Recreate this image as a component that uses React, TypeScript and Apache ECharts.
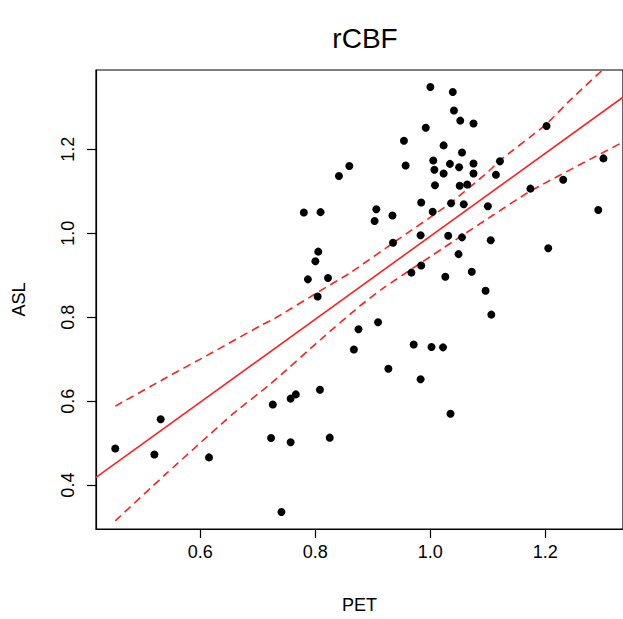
import React, { useEffect, useRef } from "react";
import * as echarts from "echarts";

// PET (x) and ASL (y) values
const petValues = [
  0.452, 0.520, 0.531, 0.615, 0.723, 0.726, 0.741, 0.757, 0.757, 0.766,
  0.808, 0.825, 0.804, 0.787, 0.822, 0.800, 0.805, 0.780, 0.809, 0.841,
  0.859, 0.867, 0.875, 0.909, 0.927, 0.906, 0.903, 0.934, 0.935, 0.954,
  0.957, 0.967, 0.971, 0.983, 0.983, 0.984, 0.984, 0.992, 1.000, 1.002,
  1.004, 1.005, 1.007, 1.008, 1.022, 1.023, 1.023, 1.026, 1.031, 1.034,
  1.035, 1.036, 1.039, 1.041, 1.049, 1.050, 1.051, 1.052, 1.055, 1.055,
  1.058, 1.064, 1.072, 1.075, 1.075, 1.075, 1.096, 1.100, 1.105, 1.106,
  1.114, 1.121, 1.174, 1.202, 1.205, 1.231, 1.292, 1.301,
];
const aslValues = [
  0.487, 0.473, 0.557, 0.466, 0.512, 0.592, 0.336, 0.502, 0.606, 0.616,
  0.627, 0.513, 0.849, 0.890, 0.893, 0.933, 0.956, 1.049, 1.050, 1.136,
  1.160, 0.723, 0.771, 0.788, 0.677, 1.057, 1.029, 1.042, 0.977, 1.220,
  1.161, 0.906, 0.735, 0.652, 0.995, 0.923, 1.073, 1.251, 1.348, 0.729,
  1.051, 1.173, 1.151, 1.114, 0.728, 1.209, 1.142, 0.896, 0.994, 1.165,
  0.570, 1.071, 1.336, 1.292, 0.950, 1.157, 1.113, 1.268, 1.192, 0.990,
  1.069, 1.116, 0.908, 1.261, 1.166, 1.142, 0.863, 1.064, 0.983, 0.806,
  1.139, 1.171, 1.106, 1.255, 0.964, 1.127, 1.055, 1.178,
];

// Regression line (read at the plot edges)
const fitX = [0.4185, 1.335];
const fitY = [0.4182, 1.3237];

// Confidence band curves
const upperX = [0.452, 0.542, 0.600, 0.709, 0.727, 0.816, 0.860, 0.946, 1.033, 1.102, 1.120, 1.201, 1.244, 1.299];
const upperY = [0.588, 0.657, 0.700, 0.783, 0.795, 0.869, 0.905, 0.987, 1.070, 1.148, 1.172, 1.259, 1.318, 1.388];
const lowerX = [0.452, 0.542, 0.657, 0.722, 0.8135, 0.877, 0.918, 1.056, 1.108, 1.175, 1.333];
const lowerY = [0.315, 0.429, 0.570, 0.641, 0.752, 0.826, 0.869, 0.995, 1.042, 1.101, 1.2155];

const xTicks = [0.6, 0.8, 1.0, 1.2];
const yTicks = [0.4, 0.6, 0.8, 1.0, 1.2];

const FONT = "Liberation Sans, Arial, sans-serif";

const zip = (a: number[], b: number[]) => a.map((v, i) => [v, b[i]]);

export default function App() {
  const ref = useRef<HTMLDivElement>(null);
  useEffect(() => {
    if (!ref.current) return;
    const chart = echarts.init(ref.current, undefined, { renderer: "svg" });
    chart.setOption({
      animation: false,
      backgroundColor: "#ffffff",
      title: {
        text: "rCBF",
        left: 360,
        textAlign: "center",
        top: 19,
        textStyle: { fontFamily: FONT, fontSize: 28, fontWeight: "normal", color: "#000" },
      },
      grid: {
        left: 96,
        top: 70,
        width: 528,
        height: 463,
        show: true,
        borderColor: "#000",
        borderWidth: 1.2,
        backgroundColor: "transparent",
      },
      xAxis: {
        type: "value",
        min: 0.4185,
        max: 1.335,
        name: "PET",
        nameLocation: "middle",
        nameGap: 67,
        nameTextStyle: { fontFamily: FONT, fontSize: 18, color: "#000" },
        splitLine: { show: false },
        axisLine: { show: true, lineStyle: { color: "#000", width: 1.2 } },
        axisTick: { show: true, length: 9, customValues: xTicks, lineStyle: { color: "#000", width: 1.2 } },
        axisLabel: {
          customValues: xTicks,
          margin: 14,
          fontFamily: FONT,
          fontSize: 18,
          color: "#000",
          formatter: (v: number) => v.toFixed(1),
        },
      },
      yAxis: {
        type: "value",
        min: 0.2955,
        max: 1.3885,
        name: "ASL",
        nameLocation: "middle",
        nameGap: 68,
        nameTextStyle: { fontFamily: FONT, fontSize: 18, color: "#000" },
        splitLine: { show: false },
        axisLine: { show: true, lineStyle: { color: "#000", width: 1.2 } },
        axisTick: { show: true, length: 9, customValues: yTicks, lineStyle: { color: "#000", width: 1.2 } },
        axisLabel: {
          customValues: yTicks,
          rotate: 90,
          margin: 19,
          fontFamily: FONT,
          fontSize: 18,
          color: "#000",
          formatter: (v: number) => v.toFixed(1),
        },
      },
      series: [
        {
          type: "scatter",
          data: zip(petValues, aslValues),
          symbol: "circle",
          symbolSize: 8,
          itemStyle: { color: "#000", opacity: 1 },
          z: 3,
        },
        {
          type: "line",
          data: zip(fitX, fitY),
          symbol: "none",
          lineStyle: { color: "#ff2020", width: 1.6 },
          z: 2,
        },
        {
          type: "line",
          data: zip(upperX, upperY),
          symbol: "none",
          smooth: 0.2,
          lineStyle: { color: "#ff2020", width: 1.6, type: [8, 5] },
          z: 2,
        },
        {
          type: "line",
          data: zip(lowerX, lowerY),
          symbol: "none",
          smooth: 0.2,
          lineStyle: { color: "#ff2020", width: 1.6, type: [8, 5] },
          z: 2,
        },
      ],
    });
    return () => chart.dispose();
  }, []);
  return (
    <div
      ref={ref}
      style={{ position: "fixed", left: 0, top: 0, width: 623, height: 619, background: "#fff" }}
    />
  );
}
